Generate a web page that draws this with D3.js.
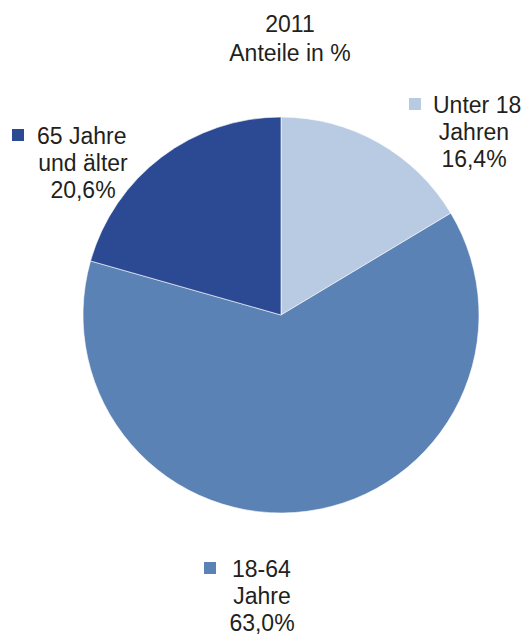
<!DOCTYPE html>
<html><head><meta charset="utf-8">
<script src="https://cdn.jsdelivr.net/npm/d3@7"></script>
<style>body{margin:0;background:#fff}svg{display:block}text{font-family:"Liberation Sans",Arial,sans-serif;fill:#231f20}</style>
</head><body>
<svg id="c" width="527" height="635"></svg>
<script>
const categories = ["Unter 18 Jahren", "18-64 Jahre", "65 Jahre und älter"];
const values = [16.4, 63.0, 20.6];
const labelLines = [["Unter 18", "Jahren", "16,4%"], ["18-64", "Jahre", "63,0%"], ["65 Jahre", "und älter", "20,6%"]];
const colors = ["#b9cbe3", "#5b82b5", "#2b4a93"];
const titleLines = ["2011", "Anteile in %"];

const svg = d3.select("#c");
const cx = 281, cy = 315, r = 198;
const fs = 23, lh = 27;

svg.selectAll("text.title").data(titleLines).join("text")
  .attr("class","title").attr("x", 290).attr("y", (d,i)=>32 + i*28.5)
  .attr("text-anchor","middle").attr("font-size", fs).text(d=>d);

const pie = d3.pie().sort(null).value(d=>d);
const arc = d3.arc().innerRadius(0).outerRadius(r);
const g = svg.append("g").attr("transform",`translate(${cx},${cy})`);
g.selectAll("path").data(pie(values)).join("path")
  .attr("d", arc).attr("fill",(d,i)=>colors[i])
  .attr("stroke","#fff").attr("stroke-width",0.6);

// label blocks: center x of lines 2-3, first baseline, marker x, first-line start x
const labelPos = [
  {x: 474, y: 113, mx: 409, sx: 433},
  {x: 262, y: 577, mx: 204, sx: 232},
  {x: 83, y: 144, mx: 12, sx: 37}
];
labelLines.forEach((lines, i) => {
  const p = labelPos[i];
  const gl = svg.append("g");
  gl.append("rect").attr("x", p.mx).attr("y", p.y - 15).attr("width", 12).attr("height", 12).attr("fill", colors[i]);
  lines.forEach((t, j) => {
    gl.append("text").attr("x", j === 0 ? p.sx : p.x).attr("y", p.y + j*lh)
      .attr("text-anchor", j === 0 ? "start" : "middle").attr("font-size", fs).text(t);
  });
});
</script>
</body></html>
